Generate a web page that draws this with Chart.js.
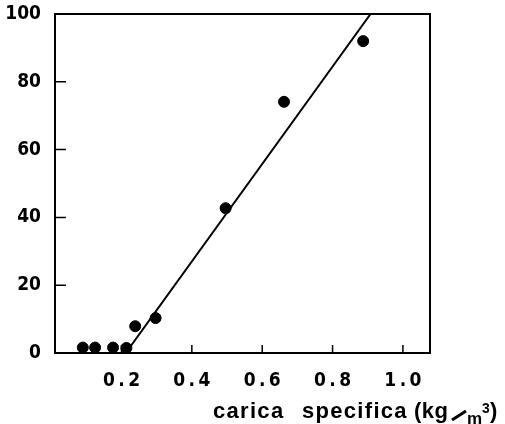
<!DOCTYPE html>
<html>
<head>
<meta charset="utf-8">
<script src="https://cdn.jsdelivr.net/npm/chart.js@4/dist/chart.umd.min.js"></script>
<style>
  html, body { margin: 0; padding: 0; background: #fff; }
  #box { width: 505px; height: 424px; }
</style>
</head>
<body>
<div id="box"><canvas id="grafico"></canvas></div>
<script>
// valori
const caricaX = [0.09, 0.125, 0.176, 0.214, 0.239, 0.297, 0.496, 0.662, 0.887];
const valoriY = [1.6, 1.6, 1.6, 1.5, 7.9, 10.3, 42.7, 74.1, 92];
const rettaX = [0.212, 0.908];
const rettaY = [0, 100];
const tickX = [0.2, 0.4, 0.6, 0.8, 1.0];
const etichetteX = ['0.2', '0.4', '0.6', '0.8', '1.0'];
const tickY = [0, 20, 40, 60, 80, 100];

const numFont = { family: '"DejaVu Sans Condensed", "Liberation Sans", sans-serif', size: 19, weight: 'bold' };

// bordo, tacche interne e titolo dell'asse x
const cornice = {
  id: 'cornice',
  afterDraw(chart) {
    const { ctx, chartArea: a, scales } = chart;
    ctx.save();
    ctx.strokeStyle = '#000';
    ctx.lineWidth = 2;
    ctx.strokeRect(a.left, a.top, a.right - a.left, a.bottom - a.top);
    ctx.beginPath();
    tickY.forEach(v => {
      const y = scales.y.getPixelForValue(v);
      ctx.moveTo(a.left, y);
      ctx.lineTo(a.left + 11, y);
    });
    tickX.forEach(v => {
      const x = scales.x.getPixelForValue(v);
      ctx.moveTo(x, a.bottom);
      ctx.lineTo(x, a.bottom - 8);
    });
    ctx.lineWidth = 1.5;
    ctx.stroke();

    // titolo: "carica specifica (kg/m3)"
    ctx.fillStyle = '#000';
    ctx.textBaseline = 'alphabetic';
    ctx.letterSpacing = '1.3px';
    const base = 418;
    ctx.font = 'bold 22px "Liberation Sans", Arial, sans-serif';
    ctx.fillText('carica', 213, base);
    ctx.fillText('specifica', 302, base);
    ctx.letterSpacing = '0.5px';
    ctx.fillText('(kg', 414, base);
    ctx.fillText(')', 490, base);
    ctx.beginPath();
    ctx.moveTo(452, base + 2);
    ctx.lineTo(466, base - 7);
    ctx.lineWidth = 3;
    ctx.stroke();
    ctx.font = 'bold 17px "Liberation Sans", Arial, sans-serif';
    ctx.fillText('m', 467, 424);
    ctx.font = 'bold 14px "Liberation Sans", Arial, sans-serif';
    ctx.fillText('3', 482, 413);
    ctx.restore();
  }
};

const grafico = new Chart(document.getElementById('grafico').getContext('2d'), {
  type: 'scatter',
  data: {
    datasets: [
      {
        data: caricaX.map((x, i) => ({ x, y: valoriY[i] })),
        backgroundColor: '#000',
        borderColor: '#000',
        pointRadius: 5.5,
        pointHoverRadius: 5.5
      },
      {
        data: rettaX.map((x, i) => ({ x, y: rettaY[i] })),
        showLine: true,
        borderColor: '#000',
        borderWidth: 2,
        pointRadius: 0
      }
    ]
  },
  options: {
    responsive: true,
    maintainAspectRatio: false,
    animation: false,
    layout: { padding: { top: 14, right: 75, left: 0, bottom: 0 } },
    plugins: { legend: { display: false }, tooltip: { enabled: false } },
    scales: {
      x: {
        type: 'linear',
        min: 0.011,
        max: 1.077,
        afterBuildTicks: s => { s.ticks = tickX.map(v => ({ value: v })); },
        afterFit: s => { s.height = 71; },
        grid: { display: false, drawTicks: false },
        border: { display: false },
        ticks: {
          color: '#000',
          font: numFont,
          padding: 17,
          maxRotation: 0,
          autoSkip: false,
          callback: v => {
            const i = tickX.findIndex(t => Math.abs(t - v) < 1e-6);
            return i < 0 ? '' : etichetteX[i].split('').join('\u2009');
          }
        }
      },
      y: {
        min: 0,
        max: 100,
        afterBuildTicks: s => { s.ticks = tickY.map(v => ({ value: v })); },
        afterFit: s => { s.width = 55; s.paddingTop = 0; s.paddingBottom = 0; },
        grid: { display: false, drawTicks: false },
        border: { display: false },
        ticks: { color: '#000', font: numFont, padding: 14 }
      }
    }
  },
  plugins: [cornice]
});
</script>
</body>
</html>
